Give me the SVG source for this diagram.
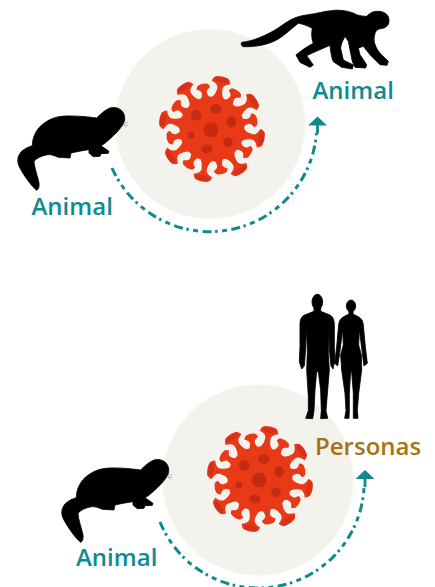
<svg xmlns="http://www.w3.org/2000/svg" xmlns:xlink="http://www.w3.org/1999/xlink" width="435" height="587" viewBox="0 0 435 587">
<style>
.bg{fill:#f3f2ed}
.lbl{font-family:"Open Sans",sans-serif;font-weight:600;font-size:24px}
.t{fill:#0f8a90}
.p{fill:#a5730f}
.arc{fill:none;stroke:#0f8a90;stroke-width:3;stroke-dasharray:9 3.500 2.500 4.500 5 4.500}
.sil{fill:#000;stroke:#000;stroke-width:2.500;stroke-linejoin:round}
.body{fill:#e83a17}
.spot{fill:#c42b12}
.cap{fill:#d5301a}
</style>
<defs>
<g id="sl"><path class="body" d="M-10 -28C-5 -31 -3 -35 -2.600 -41C-2.600 -44 -5 -46 -9.500 -47.500Q-9 -50.500 -6.500 -52.500Q0 -54.500 6.500 -52.500Q9 -50.500 9.500 -47.500C5 -46 2.600 -44 2.600 -41C3 -35 5 -31 10 -28Z"/><ellipse class="cap" cy="-50" rx="7" ry="2.800"/></g>
<g id="ss"><path class="body" d="M-9 -28C-5 -30 -2.600 -33 -2.500 -37C-2.500 -39 -4.500 -40.500 -7 -41.500Q-6.500 -44.500 -4.500 -45.500Q0 -47 4.500 -45.500Q6.500 -44.500 7 -41.500C4.500 -40.500 2.500 -39 2.500 -37C2.600 -33 5 -30 9 -28Z"/></g>
<g id="virus">
<use xlink:href="#sl" transform="rotate(11)"/><use xlink:href="#sl" transform="rotate(56)"/><use xlink:href="#sl" transform="rotate(101)"/><use xlink:href="#sl" transform="rotate(146)"/><use xlink:href="#sl" transform="rotate(191)"/><use xlink:href="#sl" transform="rotate(236)"/><use xlink:href="#sl" transform="rotate(281)"/><use xlink:href="#sl" transform="rotate(326)"/>
<use xlink:href="#ss" transform="rotate(-12)"/><use xlink:href="#ss" transform="rotate(33)"/><use xlink:href="#ss" transform="rotate(78)"/><use xlink:href="#ss" transform="rotate(123)"/><use xlink:href="#ss" transform="rotate(168)"/><use xlink:href="#ss" transform="rotate(213)"/><use xlink:href="#ss" transform="rotate(258)"/><use xlink:href="#ss" transform="rotate(303)"/>
<circle class="body" r="32.500"/>
<circle class="spot" cx="-1" cy="1" r="7.500"/><ellipse class="spot" cx="3.700" cy="-20" rx="5.700" ry="4.700"/><circle class="spot" cx="-15.700" cy="-13.700" r="5.300"/><ellipse class="spot" cx="19.300" cy="-7.300" rx="4.700" ry="5.700"/><circle class="spot" cx="16" cy="13.300" r="4.700"/><ellipse class="spot" cx="-5" cy="20" rx="5.700" ry="4.300"/><circle class="spot" cx="-21" cy="6" r="3.400"/>
</g>
<g id="otter" transform="translate(15 103) scale(.3333)">
<path class="sil" d="M65 262C50 250 28 220 15 195C5 178 6 160 20 145C30 136 42 131 52 128C52 108 60 88 72 74C90 55 115 42 140 40C165 37 210 40 245 45C255 35 265 25 280 17C295 10 312 14 322 25C330 35 332 50 325 62C315 80 295 100 268 122L258 128L282 145L280 151L258 152L255 160L235 161L222 150L222 140C205 142 185 146 168 150L165 165L130 163C118 158 108 154 98 155C80 158 65 165 57 175C58 195 68 220 72 240C73 250 72 258 65 262Z"/>
<path d="M325 62L340 58M327 66L340 68M326 64L334 74" stroke="#888" stroke-width="1.500" fill="none"/>
</g>
<g id="arrow"><path d="M-9.500 9L0 0L9.500 9H1.400V17H-1.400V9Z" fill="#0f8a90"/></g>
</defs>
<g id="connectors">
<path class="arc" d="M112 168A107 107 0 0 0 316.500 133"/>
<use xlink:href="#arrow" x="317.500" y="116.500"/>
<path class="arc" d="M160 522A106 106 0 0 0 364 488"/>
<use xlink:href="#arrow" x="365" y="470"/>
</g>
<g id="node-top">
<circle class="bg" cx="210" cy="124" r="95"/>
<use xlink:href="#virus" x="212" y="129"/>
</g>
<g id="node-bottom">
<circle class="bg" cx="258" cy="480" r="95.500"/>
<use xlink:href="#virus" x="260" y="479"/>
</g>
<g id="node-animal-left-top">
<use xlink:href="#otter"/>
<text class="lbl t" x="31.500" y="215">Animal</text>
</g>
<g id="node-animal-monkey">
<path class="sil" transform="translate(235 5) scale(.3333)" d="M20 112C60 108 110 85 150 55C170 40 195 32 220 29C245 26 270 18 290 17C315 13 345 18 365 29C375 32 385 34 395 34C405 24 415 19 425 19C440 18 455 24 460 35C464 48 462 58 455 64C448 70 440 71 435 71C425 74 420 80 419 90C416 100 417 109 420 118C424 130 430 139 438 148L460 169L456 181L435 179L405 149L385 124L370 129L375 149L395 179L392 189L360 187C354 175 350 165 350 159L340 109L330 94L322 110C318 120 316 130 318 135L325 165L355 180L352 192L320 187L295 170C290 160 287 140 285 121C265 130 240 140 215 152L235 180L225 187L195 172L183 150C195 140 215 125 235 115C229 100 229 82 232 70C218 62 200 56 190 55C170 70 150 90 130 102C100 120 60 126 25 125C18 122 18 116 20 112Z"/>
<text class="lbl t" x="312.500" y="99">Animal</text>
</g>
<g id="node-animal-left-bottom">
<use xlink:href="#otter" transform="translate(44 352)"/>
<text class="lbl t" x="76" y="566">Animal</text>
</g>
<g id="node-personas">
<g transform="translate(290 290) scale(.3333)">
<ellipse class="sil" cx="82" cy="36" rx="16" ry="23"/>
<path class="sil" d="M72 52L72 64L42 76C32 82 30 92 30 105L30 170L28 215L35 237L43 228L46 190L50 115L52 190L50 240L55 320L55 362L47 385L68 386L72 362L75 300L80 245L85 245L92 300L94 362L92 386L113 385L108 362L113 300L118 240L115 190L116 115L119 190L123 228L129 237L134 215L133 170L133 105C133 92 130 82 122 76L92 64L92 52Z"/>
<ellipse class="sil" cx="183" cy="48" rx="14" ry="18"/>
<path class="sil" d="M177 60L177 72L158 82C150 88 147 95 146 105L140 170L134 220L143 228L149 190L158 118L160 165L152 195L155 240L165 310L168 362L164 385L177 385L178 362L178 310L182 245L185 245L190 310L190 362L190 385L204 385L202 362L206 310L215 240L214 195L206 165L208 118L217 190L222 228L232 220L226 170L220 105C219 95 216 88 208 82L189 72L189 60Z"/>
</g>
<text class="lbl p" x="315" y="455">Personas</text>
</g>
</svg>
